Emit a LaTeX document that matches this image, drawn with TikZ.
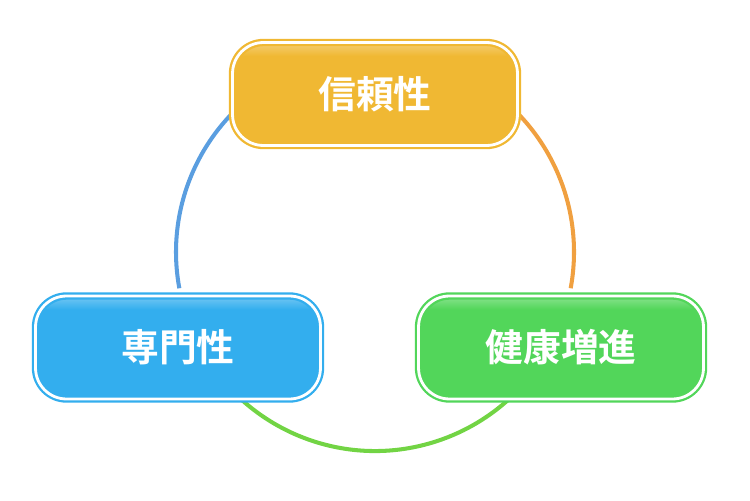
\documentclass[tikz,border=0pt]{standalone}
\usepackage{fontspec}
\usepackage{tikz}
\usepackage{xcolor}
\newfontfamily\jpfont{Noto Sans CJK JP Bold}
\definecolor{trustyellow}{RGB}{240,184,51}
\definecolor{expertblue}{RGB}{51,174,238}
\definecolor{healthgreen}{RGB}{82,214,90}
\definecolor{arcblue}{RGB}{90,158,224}
\definecolor{arcorange}{RGB}{240,160,64}
\definecolor{arcgreen}{RGB}{114,212,68}
\colorlet{pillc}{trustyellow}
% light band along the top inside the box
\pgfdeclareverticalshading[pillc]{pillglow}{100bp}{color(0bp)=(pillc); color(68.5bp)=(pillc); color(75bp)=(pillc!68!white); color(100bp)=(pillc!68!white)}

\begin{document}
\begin{tikzpicture}[x=0.02cm, y=-0.02cm,
    pill/.style={rounded corners=0.62cm, minimum width=5.7cm, minimum height=2.06cm,
        line width=1.3pt, double=white, double distance=1.6pt, shading=pillglow,
        text=white, font=\jpfont\fontsize{21.5}{25}\selectfont},
    pillcolor/.style={draw=#1, /utils/exec={\colorlet{pillc}{#1}}},
    ring/.style={line width=2.3pt}]
    \useasboundingbox (0,0) rectangle (750,500);

    % Circle behind the boxes (y runs downwards, so angles turn clockwise)
    \coordinate (hub) at (375,252);
    \draw[ring, arcblue] ([shift={(230:199)}]hub) arc (230:169.5:199);
    \draw[ring, arcorange] ([shift={(-50:199)}]hub) arc (-50:10.5:199);
    \draw[ring, arcgreen] ([shift={(160:199)}]hub) arc (160:20:199);

    % Boxes
    \node[pillcolor=trustyellow, pill] (trust) at (375,94) {信頼性};
    \node[pillcolor=expertblue, pill] (expert) at (178,347.5) {専門性};
    \node[pillcolor=healthgreen, pill] (health) at (561,347.5) {健康増進};
\end{tikzpicture}
\end{document}
